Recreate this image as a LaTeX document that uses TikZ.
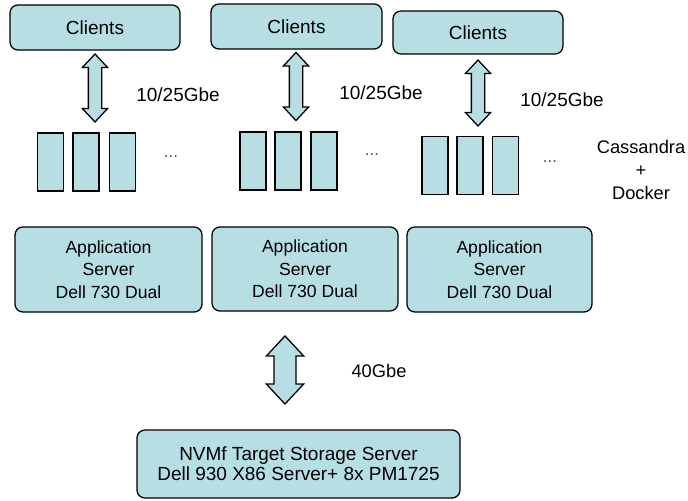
\documentclass[tikz,border=0pt]{standalone}
\usepackage{fontspec}
\setmainfont{Liberation Sans}
\usetikzlibrary{shapes.arrows}
\definecolor{boxfill}{RGB}{183,222,226}

\begin{document}
\begin{tikzpicture}[x=0.025cm,y=-0.025cm]

\tikzset{box/.style = {draw, fill=boxfill, rounded corners=0.2cm, line width=0.9pt, align=center, inner sep=0pt}}
\tikzset{ctr/.style = {draw, fill=boxfill, line width=0.9pt, minimum width=0.65cm, minimum height=1.45cm, inner sep=0pt}}
\tikzset{link/.style = {double arrow, draw, fill=boxfill, line width=0.9pt, rotate=90, inner xsep=0pt, inner ysep=0.15cm, minimum height=1.7cm, minimum width=0.6cm, double arrow head extend=0.15cm, double arrow tip angle=86}}
\tikzset{biglink/.style = {link, inner ysep=0.26cm, minimum width=0.9cm, double arrow head extend=0.19cm}}
\tikzset{rate/.style = {font=\fontsize{13.5}{16}\selectfont}}
\tikzset{dots/.style = {font=\fontsize{12}{14}\selectfont, text=black!70}}

\useasboundingbox (0,0) rectangle (688,500);

%clients
\node[box, minimum width=4.25cm, minimum height=1.125cm, font=\fontsize{13.5}{16}\selectfont] (c1) at (95,27.5) {Clients};
\node[box, minimum width=4.275cm, minimum height=1.125cm, font=\fontsize{13.5}{16}\selectfont] (c2) at (296.5,26.5) {Clients};
\node[box, minimum width=4.25cm, minimum height=1.075cm, font=\fontsize{13.5}{16}\selectfont] (c3) at (478,32.5) {Clients};

%containers
\node[ctr] (k11) at (50.5,162) {};
\node[ctr] (k12) at (86,162) {};
\node[ctr] (k13) at (122.5,162) {};
\node[dots] (d1) at (171,157) {...};
\node[ctr] (k21) at (253,161) {};
\node[ctr] (k22) at (288,161) {};
\node[ctr] (k23) at (324,161) {};
\node[dots] (d2) at (372,155) {...};
\node[ctr] (k31) at (435,165.5) {};
\node[ctr] (k32) at (470,165.5) {};
\node[ctr] (k33) at (505.5,165.5) {};
\node[dots] (d3) at (550,162) {...};
\node[align=center, font=\fontsize{13}{16.4}\selectfont] (cd) at (641,170) {Cassandra\\+\\Docker};

%application servers
\node[box, minimum width=4.675cm, minimum height=2.125cm, font=\fontsize{12.5}{16}\selectfont] (s1) at (108.5,269.5) {Application\\Server\\Dell 730 Dual};
\node[box, minimum width=4.65cm, minimum height=2.1cm, font=\fontsize{12.5}{16}\selectfont] (s2) at (305,269) {Application\\Server\\Dell 730 Dual};
\node[box, minimum width=4.625cm, minimum height=2.125cm, font=\fontsize{12.5}{16}\selectfont] (s3) at (499.5,269.5) {Application\\Server\\Dell 730 Dual};

%storage
\node[box, minimum width=8.075cm, minimum height=1.7cm, font=\fontsize{13.5}{14.2}\selectfont] (t) at (298.5,464) {NVMf Target Storage Server\\Dell 930 X86 Server+ 8x PM1725};

%links
\node[link] (a1) at (95,88) {};
\node[link] (a2) at (296,86.5) {};
\node[link, minimum height=1.65cm] (a3) at (478,93) {};
\node[biglink] (a4) at (285,370) {};
\node[rate] (r1) at (178,95) {10/25Gbe};
\node[rate] (r2) at (381,93) {10/25Gbe};
\node[rate] (r3) at (562,100) {10/25Gbe};
\node[font=\fontsize{13}{16}\selectfont] (r4) at (379,371) {40Gbe};

\end{tikzpicture}
\end{document}
